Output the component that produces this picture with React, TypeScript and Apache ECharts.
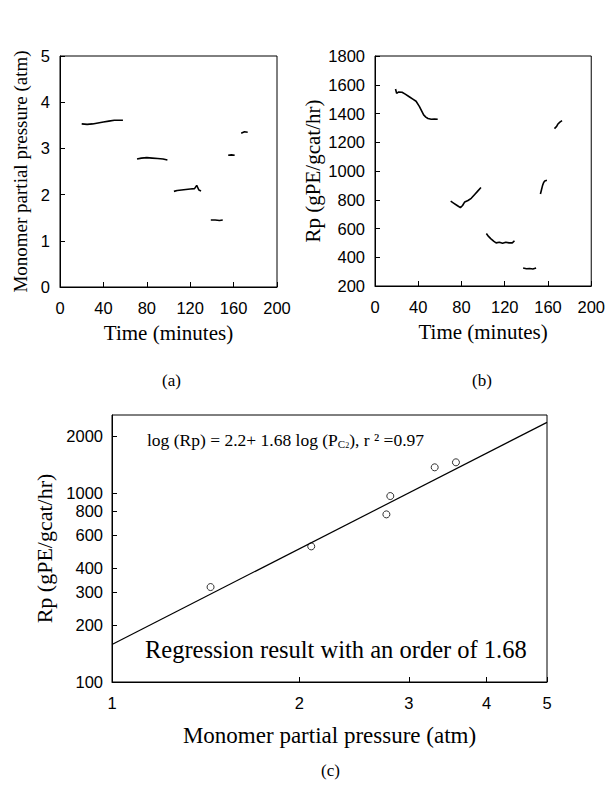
import React, { useEffect, useRef } from "react";
import * as echarts from "echarts";

// ---- (a) monomer partial pressure vs time, one array per run segment ----
const pressureSeg1 = [[20, 3.53], [25, 3.52], [30, 3.53], [35, 3.55], [40, 3.57], [45, 3.59], [50, 3.61], [55, 3.61], [58, 3.61]];
const pressureSeg2 = [[71, 2.77], [75, 2.79], [80, 2.8], [85, 2.79], [90, 2.78], [95, 2.77], [99, 2.75]];
const pressureSeg3 = [[105, 2.07], [108, 2.09], [112, 2.1], [116, 2.11], [120, 2.12], [124, 2.13], [126, 2.2], [128, 2.1], [130, 2.08]];
const pressureSeg4 = [[139, 1.45], [143, 1.45], [147, 1.44], [150, 1.45]];
const pressureSeg5 = [[155, 2.85], [158, 2.86], [161, 2.85]];
const pressureSeg6 = [[167, 3.33], [170, 3.36], [173, 3.35]];

// ---- (b) polymerization rate vs time ----
const rateSeg1 = [[19, 1570], [20, 1540], [22, 1550], [25, 1548], [28, 1535], [32, 1515], [35, 1500], [38, 1485], [41, 1450], [43, 1420], [45, 1390], [47, 1375], [49, 1365], [52, 1360], [55, 1362], [58, 1360]];
const rateSeg2 = [[70, 790], [73, 775], [76, 760], [79, 745], [81, 760], [83, 785], [86, 795], [89, 810], [92, 835], [95, 860], [98, 885]];
const rateSeg3 = [[103, 565], [105, 545], [107, 530], [110, 510], [112, 500], [115, 505], [118, 498], [121, 505], [124, 500], [127, 500], [129, 515]];
const rateSeg4 = [[137, 325], [140, 320], [143, 322], [146, 318], [149, 325]];
const rateSeg5 = [[153, 840], [154, 870], [155, 900], [156, 920], [157, 930], [159, 935]];
const rateSeg6 = [[166, 1295], [168, 1310], [169, 1325], [171, 1340], [173, 1350]];

// ---- (c) regression (log-log) ----
const pressureAtm = [1.44, 2.09, 2.76, 2.8, 3.3, 3.57];
const rateRp = [318, 522, 771, 964, 1368, 1454];
const fitPressure = [1, 5];
const fitRate = [158, 2366];
const xTickValues = [1, 2, 3, 4, 5];
const yTickValues = [100, 200, 300, 400, 600, 800, 1000, 2000];

const lg = (v: number) => Math.log10(v);

export default function App() {
  const ref = useRef<HTMLDivElement>(null);

  useEffect(() => {
    if (!ref.current) return;
    const chart = echarts.init(ref.current, undefined, { renderer: "svg" });

    const sans = "Liberation Sans";
    const serif = "Liberation Serif";
    const black = "#000";

    const axisCommon = {
      axisLine: { show: true, onZero: false, lineStyle: { color: black, width: 1 } },
      axisTick: { show: true, inside: true, length: 5, lineStyle: { color: black } },
      splitLine: { show: false },
    };

    const segSeries = (segs: number[][][], idx: number) =>
      segs.map((s) => ({
        type: "line",
        xAxisIndex: idx,
        yAxisIndex: idx,
        data: s,
        symbol: "none",
        lineStyle: { color: black, width: 1.6 },
      }));

    const plain = (v: number) => String(v);

    const option: any = {
      animation: false,
      backgroundColor: "#fff",
      grid: [
        { left: 60, top: 56, width: 217, height: 231, show: true, borderColor: black, borderWidth: 1, backgroundColor: "transparent" },
        { left: 375, top: 56, width: 218, height: 230, show: true, borderColor: black, borderWidth: 1, backgroundColor: "transparent" },
        { left: 112, top: 415, width: 435, height: 267, show: true, borderColor: black, borderWidth: 1, backgroundColor: "transparent" },
      ],
      xAxis: [
        {
          ...axisCommon, gridIndex: 0, type: "value", min: 0, max: 200, interval: 40,
          axisLabel: { fontFamily: sans, fontSize: 16.5, color: black, margin: 12, formatter: plain },
          name: "Time (minutes)", nameLocation: "middle", nameGap: 35,
          nameTextStyle: { fontFamily: serif, fontSize: 21, color: black },
        },
        {
          ...axisCommon, gridIndex: 1, type: "value", min: 0, max: 200, interval: 40,
          axisLabel: { fontFamily: sans, fontSize: 16.5, color: black, margin: 12, formatter: plain },
          name: "Time (minutes)", nameLocation: "middle", nameGap: 35,
          nameTextStyle: { fontFamily: serif, fontSize: 21, color: black },
        },
        {
          ...axisCommon, gridIndex: 2, type: "value", min: 0, max: lg(5),
          axisTick: { ...axisCommon.axisTick, customValues: xTickValues.map(lg) },
          axisLabel: {
            fontFamily: sans, fontSize: 16.5, color: black, margin: 12,
            customValues: xTickValues.map(lg),
            formatter: (v: number) => String(Math.round(Math.pow(10, v))),
          },
          name: "Monomer partial pressure (atm)", nameLocation: "middle", nameGap: 42,
          nameTextStyle: { fontFamily: serif, fontSize: 23, color: black },
        },
      ],
      yAxis: [
        {
          ...axisCommon, gridIndex: 0, type: "value", min: 0, max: 5, interval: 1,
          axisLabel: { fontFamily: sans, fontSize: 16.5, color: black, margin: 10, formatter: plain },
          name: "Monomer partial pressure (atm)", nameLocation: "middle", nameGap: 30,
          nameTextStyle: { fontFamily: serif, fontSize: 19, color: black },
        },
        {
          ...axisCommon, gridIndex: 1, type: "value", min: 200, max: 1800, interval: 200,
          axisLabel: { fontFamily: sans, fontSize: 16.5, color: black, margin: 10, formatter: plain },
          name: "Rp (gPE/gcat/hr)", nameLocation: "middle", nameGap: 52,
          nameTextStyle: { fontFamily: serif, fontSize: 21, color: black },
        },
        {
          ...axisCommon, gridIndex: 2, type: "value", min: 2, max: 3.413,
          axisTick: { ...axisCommon.axisTick, customValues: yTickValues.map(lg) },
          axisLabel: {
            fontFamily: sans, fontSize: 16.5, color: black, margin: 9,
            customValues: yTickValues.map(lg),
            formatter: (v: number) => String(Math.round(Math.pow(10, v))),
          },
          name: "Rp (gPE/gcat/hr)", nameLocation: "middle", nameGap: 30,
          nameTextStyle: { fontFamily: serif, fontSize: 22, color: black },
        },
      ],
      series: [
        ...segSeries([pressureSeg1, pressureSeg2, pressureSeg3, pressureSeg4, pressureSeg5, pressureSeg6], 0),
        ...segSeries([rateSeg1, rateSeg2, rateSeg3, rateSeg4, rateSeg5, rateSeg6], 1),
        {
          type: "line",
          xAxisIndex: 2,
          yAxisIndex: 2,
          data: fitPressure.map((p, i) => [lg(p), lg(fitRate[i])]),
          symbol: "none",
          lineStyle: { color: black, width: 1.2 },
        },
        {
          type: "scatter",
          xAxisIndex: 2,
          yAxisIndex: 2,
          data: pressureAtm.map((p, i) => [lg(p), lg(rateRp[i])]),
          symbol: "circle",
          symbolSize: 7,
          itemStyle: { color: "#fff", borderColor: black, borderWidth: 1 },
        },
      ],
      graphic: [
        { type: "text", left: 162, top: 372, style: { text: "(a)", font: "17px 'Liberation Serif'", fill: black } },
        { type: "text", left: 472, top: 372, style: { text: "(b)", font: "17px 'Liberation Serif'", fill: black } },
        { type: "text", left: 321, top: 762, style: { text: "(c)", font: "17px 'Liberation Serif'", fill: black } },
        {
          type: "text",
          left: 147,
          top: 426,
          style: {
            text: "{b|log (Rp) = 2.2+ 1.68 log (P}{s|C}{ss|2}{b|), r ² =0.97}",
            fill: black,
            rich: {
              b: { fontFamily: serif, fontSize: 17.5, lineHeight: 18, verticalAlign: "top", fill: black },
              s: { fontFamily: serif, fontSize: 11, lineHeight: 11, padding: [9, 0, 0, 0], verticalAlign: "bottom", fill: black },
              ss: { fontFamily: serif, fontSize: 8, lineHeight: 8, padding: [15, 0, 0, 0], verticalAlign: "bottom", fill: black },
            },
          },
        },
        {
          type: "text",
          left: 145,
          top: 637,
          style: { text: "Regression result with an order of 1.68", font: "24.5px 'Liberation Serif'", fill: black },
        },
      ],
    };

    chart.setOption(option);
    return () => chart.dispose();
  }, []);

  return (
    <div
      ref={ref}
      style={{ position: "fixed", left: 0, top: 0, width: 608, height: 792, background: "#fff" }}
    />
  );
}
